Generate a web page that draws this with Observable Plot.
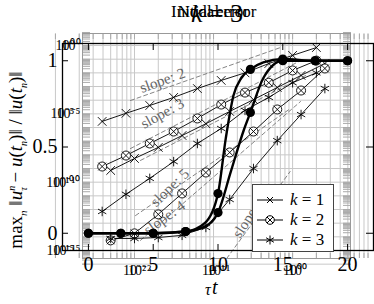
<!DOCTYPE html>
<html><head><meta charset="utf-8">
<script src="https://cdn.jsdelivr.net/npm/d3@7"></script>
<script src="https://cdn.jsdelivr.net/npm/@observablehq/plot@0.6"></script>
<style>
body{margin:0;background:#fff}
#wrap{position:relative;width:374px;height:304px;overflow:hidden;font-family:"Liberation Serif",serif;background:#fff}
#wrap > *{position:absolute;left:0;top:0}
.ttl{font-size:17px;white-space:nowrap;transform:translateX(-50%)}
#legend{left:252px;top:184px;width:82px;height:68px;background:#fff;border:1px solid #444;font-size:17px;box-sizing:border-box}
#legend .row{position:absolute;left:3px;height:20px;display:flex;align-items:center}
#legend .row span{font-style:italic;margin-left:6px}
</style></head><body><div id="wrap"></div>
<script>
// ---------- log-log convergence data (two overlaid figures) ----------
const tauA = [0.0039, 0.0078, 0.0156, 0.0313, 0.0625, 0.125, 0.25, 0.5, 1, 2];
const errA_k1 = [2.8e-6, 1.1e-5, 4.1e-5, 1.6e-4, 7.1e-4, 2.8e-3, 1.0e-2, 4.8e-2, 0.19, 0.71];
const errA_k2 = [1.4e-9, 8.9e-9, 6.8e-8, 5.1e-7, 4.6e-6, 4.8e-5, 3.6e-4, 1.9e-3, 1.5e-2, 7.9e-2];
const errA_k3 = [7.2e-13, 1.3e-11, 1.9e-10, 3.2e-9, 6.8e-8, 8.5e-7, 1.8e-5, 1.6e-4, 1.9e-3, 1.0e-2];
const tauB = [0.005, 0.01, 0.02, 0.04, 0.08, 0.16, 0.32, 0.64, 1.28, 2.56];
const errB_k1 = [7.2e-10, 5.4e-9, 3.5e-8, 2.6e-7, 1.9e-6, 1.5e-5, 1.1e-4, 8.5e-4, 6.5e-3, 4.8e-2];
const errB_k2 = [5.5e-15, 1.8e-14, 4.4e-13, 1.5e-11, 5.1e-10, 1.5e-8, 5.1e-7, 2.1e-5, 5.1e-4, 2.1e-2];
const errB_k3 = [7.6e-15, 7.6e-15, 8.9e-15, 1.3e-14, 4.9e-14, 5.4e-12, 1.0e-9, 1.1e-7, 8.9e-6, 7.1e-4];
// reference slope triangles: [tau, err] start / end
const slopeNames = ["s2", "s3a", "s3b", "s4", "s5", "s7"];
const slopeStart = [[0.0089, 9.5e-5], [0.0089, 2.9e-8], [0.0119, 3.9e-9], [0.0103, 3.6e-13], [0.0119, 5.5e-15], [0.13, 1e-16]];
const slopeEnd   = [[0.70, 0.71], [1.26, 0.079], [1.46, 6.4e-3], [0.944, 2.5e-5], [1.26, 8.0e-5], [0.93, 6e-10]];
const slopeLabels = ["slope: 2", "slope: 3", "slope: 5", "slope: 4", "slope: 7"];
const slopeLabelPos = [[0.0226, 2.75e-3], [0.0226, 1.07e-5], [0.028, 4e-11], [0.024, 2.5e-13], [0.28, 3e-13]];
const slopeLabelAngle = [-20, -29, -44, -36, -57];
const logXTicks = [0.01, 0.1, 1];
const logXLabels = ["10⁻²", "10⁻¹", "10⁰"];
const logYTicks = [1, 1e-5, 1e-10, 1e-15];
const logYLabels = ["10⁰", "10⁻⁵", "10⁻¹⁰", "10⁻¹⁵"];

// ---------- linear plot (k = 3) ----------
const tLin = [0, 2.5, 5, 7.5, 10, 12.5, 15, 17.5, 20];
const linA = [0, 0, 0, 0.01, 0.23, 0.95, 1.01, 1.0, 1.0];
const linB = [0, 0, 0, 0.01, 0.12, 0.70, 1.0, 1.0, 1.0];
// smooth curve samples between the marked points
const tCurveA = [0, 2.5, 5, 7.5, 9, 10, 10.6, 11.2, 11.8, 12.5, 13.5, 15, 17.5, 20];
const vCurveA = [0, 0, 0, 0.01, 0.06, 0.23, 0.55, 0.80, 0.90, 0.95, 0.99, 1.01, 1.0, 1.0];
const tCurveB = [0, 2.5, 5, 7.5, 9, 10, 11, 12, 12.5, 13.5, 15, 17.5, 20];
const vCurveB = [0, 0, 0, 0.01, 0.04, 0.12, 0.36, 0.60, 0.70, 0.90, 1.0, 1.0, 1.0];
const linXTicks = [0, 5, 10, 15, 20];
const linYTicks = [0, 0.5, 1];
const linYLabels = ["0", "0.5", "1"];

const wrap = document.getElementById("wrap");
const serif = "Liberation Serif";

// minor tick / grid values for log axes
const minorX = [], minorY = [], decY = [];
for (let d = -3; d <= 0; d++) for (let m = 1; m <= 9; m++) minorX.push(m * 10 ** d);
for (let d = -16; d <= 0; d++) { decY.push(10 ** d); for (let m = 1; m <= 9; m++) minorY.push(m * 10 ** d); }

const rows = (tau, err, s) => tau.map((t, i) => ({t, e: err[i], s}));
const A1 = rows(tauA, errA_k1, "A1"), A2 = rows(tauA, errA_k2, "A2"), A3 = rows(tauA, errA_k3, "A3");
const B1 = rows(tauB, errB_k1, "B1"), B2 = rows(tauB, errB_k2, "B2"), B3 = rows(tauB, errB_k3, "B3");
const k1 = A1.concat(B1), k2 = A2.concat(B2), k3 = A3.concat(B3);
const allLines = k1.concat(k2, k3);
const slopeRows = slopeNames.flatMap((n, i) => [{t: slopeStart[i][0], e: slopeStart[i][1], n}, {t: slopeEnd[i][0], e: slopeEnd[i][1], n}]);
const slopeText = slopeLabels.map((l, i) => ({l, t: slopeLabelPos[i][0], e: slopeLabelPos[i][1], a: slopeLabelAngle[i]}));
const noLabel = () => "";

const logPlot = Plot.plot({
  width: 374, height: 304,
  marginLeft: 82, marginRight: 24, marginTop: 33, marginBottom: 46,
  style: {fontFamily: serif, background: "none"},
  x: {type: "log", domain: [0.0022, 5.4], label: null},
  y: {type: "log", domain: [2.6e-16, 7.6], label: null},
  marks: [
    Plot.gridX(minorX, {stroke: "#c8c8c8", strokeOpacity: 1}),
    Plot.gridY(decY, {stroke: "#c8c8c8", strokeOpacity: 1}),
    Plot.axisY(minorY, {anchor: "left", tickSize: -8, tickFormat: noLabel, stroke: "#aaa", label: null}),
    Plot.axisY(minorY, {anchor: "right", tickSize: -8, tickFormat: noLabel, stroke: "#aaa", label: null}),
    Plot.axisX(minorX, {anchor: "top", tickSize: -5, tickFormat: noLabel, stroke: "#aaa", label: null}),
    Plot.axisX(minorX, {anchor: "bottom", tickSize: -5, tickFormat: noLabel, stroke: "#aaa", label: null}),
    Plot.frame({stroke: "#999"}),
    Plot.axisX(logXTicks, {anchor: "bottom", tickSize: 0, tickPadding: 7, fontSize: 14, tickFormat: d => logXLabels[logXTicks.indexOf(d)], label: null}),
    Plot.axisX(logXTicks, {anchor: "bottom", tickSize: 0, tickPadding: 7, dx: 5, fontSize: 14, tickFormat: d => logXLabels[logXTicks.indexOf(d)], label: null}),
    Plot.axisY(logYTicks, {anchor: "left", tickSize: 0, tickPadding: 2, fontSize: 14, tickFormat: d => logYLabels[logYTicks.indexOf(d)], label: null}),
    Plot.axisY(logYTicks, {anchor: "left", tickSize: 0, tickPadding: 8, fontSize: 14, tickFormat: d => logYLabels[logYTicks.indexOf(d)], label: null}),
    Plot.line(slopeRows, {x: "t", y: "e", z: "n", stroke: "#666", strokeWidth: 0.8, strokeDasharray: "4,3", clip: true}),
    Plot.text(slopeText, {x: "t", y: "e", text: "l", rotate: "a", fill: "#666", fontSize: 15, fontFamily: serif}),
    Plot.line(allLines, {x: "t", y: "e", z: "s", stroke: "black", strokeWidth: 0.9, clip: true}),
    Plot.dot(k1, {x: "t", y: "e", symbol: "times", r: 4, stroke: "black", strokeWidth: 0.9, clip: true}),
    Plot.dot(k2, {x: "t", y: "e", symbol: "circle", r: 4.5, stroke: "black", fill: "white", strokeWidth: 0.9, clip: true}),
    Plot.dot(k2, {x: "t", y: "e", symbol: "times", r: 3.6, stroke: "black", strokeWidth: 0.9, clip: true}),
    Plot.dot(k3, {x: "t", y: "e", symbol: "asterisk", r: 4.5, stroke: "black", strokeWidth: 0.9, clip: true})
  ]
});
wrap.appendChild(logPlot);

const linDots = tLin.map((t, i) => ({t, v: linA[i]})).concat(tLin.map((t, i) => ({t, v: linB[i]})));
const linCurves = tCurveA.map((t, i) => ({t, v: vCurveA[i], s: "A"})).concat(tCurveB.map((t, i) => ({t, v: vCurveB[i], s: "B"})));
const linPlot = Plot.plot({
  width: 374, height: 304,
  marginLeft: 62, marginRight: 1, marginTop: 43, marginBottom: 54,
  style: {fontFamily: serif, background: "none"},
  x: {domain: [-2, 22], label: null},
  y: {domain: [-0.1, 1.1], label: null},
  marks: [
    Plot.line(linCurves, {x: "t", y: "v", z: "s", stroke: "black", strokeWidth: 2.4, curve: "monotone-x"}),
    Plot.dot(linDots, {x: "t", y: "v", r: 4.6, fill: "black"}),
    Plot.frame({stroke: "black", strokeWidth: 1.3}),
    Plot.axisX(linXTicks, {anchor: "bottom", tickSize: -6, tickFormat: noLabel, label: null}),
    Plot.axisX(linXTicks, {anchor: "top", tickSize: -6, tickFormat: noLabel, label: null}),
    Plot.axisY(linYTicks, {anchor: "left", tickSize: -6, tickFormat: noLabel, label: null}),
    Plot.axisY(linYTicks, {anchor: "right", tickSize: -8, tickFormat: noLabel, label: null}),
    Plot.axisX(linXTicks, {anchor: "bottom", tickSize: 0, tickPadding: 6, fontSize: 20, label: null}),
    Plot.axisY(linYTicks, {anchor: "left", tickSize: 0, tickPadding: 5, fontSize: 20, tickFormat: d => linYLabels[linYTicks.indexOf(d)], label: null})
  ]
});
wrap.appendChild(linPlot);

function addDiv(html, css, cls) {
  const d = document.createElement("div");
  d.innerHTML = html; d.style.cssText = css; if (cls) d.className = cls;
  wrap.appendChild(d); return d;
}
addDiv("Initial error", "left:210px;top:2px;", "ttl");
addDiv("Nodal error", "left:217px;top:2px;", "ttl");
addDiv("<i>k</i> = 3", "left:217px;top:-1px;font-size:26px;", "ttl");
addDiv("<i>t</i>", "left:212px;top:276px;font-size:20px;");
addDiv("<i>τ</i>", "left:205px;top:281px;font-size:16px;");
addDiv("max<sub style='font-size:11px'><i>n</i></sub> ‖<i>u</i><sup style='font-size:10px'><i>n</i></sup><sub style='font-size:10px;margin-left:-5px'><i>τ</i></sub> − <i>u</i>(<i>t<sub style='font-size:10px'>n</sub></i>)‖ / ‖<i>u</i>(<i>t<sub style='font-size:10px'>n</sub></i>)‖",
  "left:17px;top:160px;font-size:19px;white-space:nowrap;transform:translate(-50%,-50%) rotate(-90deg);");

// legend
const leg = addDiv("", "", "");
leg.id = "legend";
const marker = {
  k1: "<path d='M-3,-3L3,3M-3,3L3,-3' stroke='black' fill='none'/>",
  k2: "<circle r='4.3' fill='white' stroke='black'/><path d='M-3,-3L3,3M-3,3L3,-3' stroke='black' fill='none'/>",
  k3: "<path d='M0,-4.5V4.5M-3.9,-2.25L3.9,2.25M-3.9,2.25L3.9,-2.25' stroke='black' fill='none'/>"
};
["k1", "k2", "k3"].forEach((k, i) => {
  const r = document.createElement("div");
  r.className = "row"; r.style.top = (5 + i * 20) + "px";
  r.innerHTML = `<svg width="28" height="14"><g transform="translate(14,7)"><line x1="-13" x2="13" stroke="black"/>${marker[k]}</g></svg><span>k</span>&nbsp;=&nbsp;${i + 1}`;
  leg.appendChild(r);
});
</script></body></html>
